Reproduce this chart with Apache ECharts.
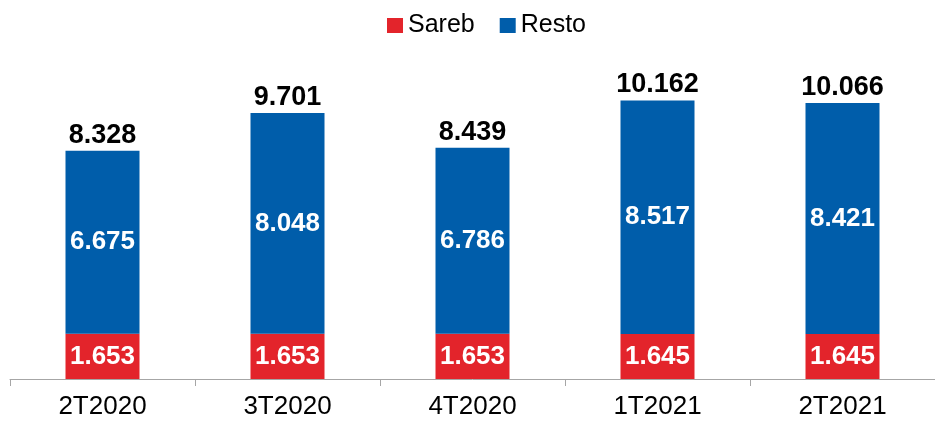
<!DOCTYPE html>
<html>
<head>
<meta charset="utf-8">
<script src="https://cdn.jsdelivr.net/npm/echarts@6/dist/echarts.min.js"></script>
<style>
html, body { margin: 0; padding: 0; background: #fff; }
#chart { width: 935px; height: 421px; }
</style>
</head>
<body>
<div id="chart"></div>
<script>
// datos (miles)
const quarters = ['2T2020', '3T2020', '4T2020', '1T2021', '2T2021']
const sareb = [1653, 1653, 1653, 1645, 1645]
const resto = [6675, 8048, 6786, 8517, 8421]
const totals = sareb.map((v, i) => v + resto[i])

const RED = '#E3242B'
const BLUE = '#005DAA'
const FONT = '"Liberation Sans", Arial, sans-serif'

// 8328 -> "8.328"
function fmt(v) {
    return String(v).replace(/\B(?=(\d{3})+(?!\d))/g, '.')
}

const chart = echarts.init(document.getElementById('chart'))

const innerLabel = {
    show: true,
    position: 'inside',
    color: '#fff',
    fontFamily: FONT,
    fontWeight: 'bold',
    fontSize: 26,
    formatter: p => fmt(p.value)
}

chart.setOption({
    animation: false,
    legend: {
        top: 8,
        left: 382,
        itemWidth: 16,
        itemHeight: 15,
        itemGap: 25,
        icon: 'rect',
        textStyle: { fontFamily: FONT, fontSize: 25, color: '#000' },
        data: ['Sareb', 'Resto']
    },
    grid: { top: 50, bottom: 42, left: 10, right: -5 },
    xAxis: {
        type: 'category',
        data: quarters,
        axisLine: { lineStyle: { color: '#a6a6a6', width: 1 } },
        axisTick: { show: true, length: 7, lineStyle: { color: '#a6a6a6' } },
        axisLabel: { fontFamily: FONT, fontSize: 26, color: '#000', margin: 15 }
    },
    yAxis: {
        type: 'value',
        min: 0,
        max: 12000,
        show: false
    },
    series: [
        {
            name: 'Sareb',
            type: 'bar',
            stack: 'total',
            barWidth: '40%',
            color: RED,
            data: sareb,
            label: innerLabel
        },
        {
            name: 'Resto',
            type: 'bar',
            stack: 'total',
            barWidth: '40%',
            color: BLUE,
            data: resto,
            label: innerLabel
        },
        {
            // totales encima de cada barra
            name: 'Total',
            type: 'scatter',
            symbolSize: 0,
            itemStyle: { opacity: 1 },
            data: totals,
            silent: true,
            label: {
                show: true,
                position: 'top',
                distance: 2,
                color: '#000',
                fontFamily: FONT,
                fontWeight: 'bold',
                fontSize: 27,
                formatter: p => fmt(p.value)
            }
        }
    ]
})
</script>
</body>
</html>
